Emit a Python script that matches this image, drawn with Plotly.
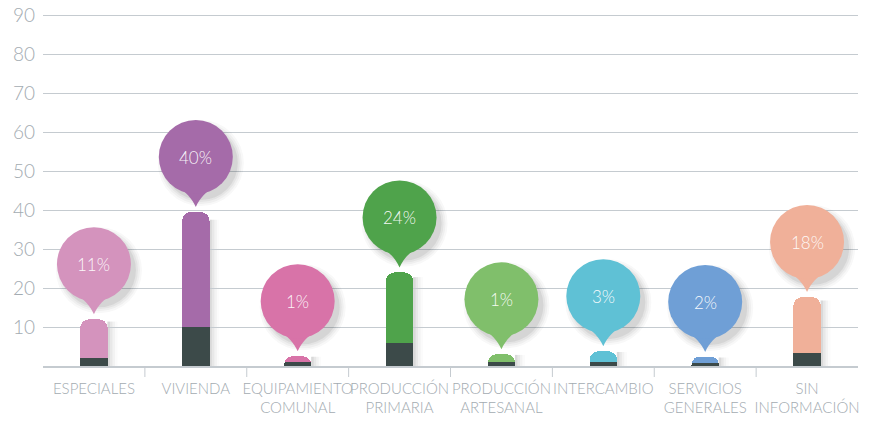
import plotly.graph_objects as go

categories = ["ESPECIALES", "VIVIENDA", "EQUIPAMIENTO<br>COMUNAL", "PRODUCCIÓN<br>PRIMARIA",
              "PRODUCCIÓN<br>ARTESANAL", "INTERCAMBIO", "SERVICIOS<br>GENERALES", "SIN<br>INFORMACIÓN"]
totals = [12, 39.5, 2.5, 24, 3, 3.8, 2.3, 17.7]
dark_part = [2, 10, 1, 6, 1, 1, 0.8, 3.3]
percents = [11, 40, 1, 24, 1, 3, 2, 18]
colors = ["#d493bd", "#a56ba9", "#d873a8", "#4fa34b", "#80bf6b", "#5fc1d5", "#6f9fd6", "#f0b099"]

upper_part = [t - d for t, d in zip(totals, dark_part)]

GRAY = "#a3abb1"
FONT = "Lato"

fig = go.Figure()
fig.add_trace(go.Bar(x=categories, y=dark_part, width=0.27,
                     marker=dict(color="#3c4a49", line=dict(width=0)), hoverinfo="skip"))
fig.add_trace(go.Bar(x=categories, y=upper_part, width=0.27,
                     marker=dict(color=colors, line=dict(width=0)), hoverinfo="skip"))

shapes = []
annotations = []
R = 37
CY = 55
for i, (tot, col, pct) in enumerate(zip(totals, colors, percents)):
    # soft shadow to the right of the bar
    for k, a in enumerate([0.07, 0.05, 0.035, 0.02]):
        shapes.append(dict(type="rect", xref="x", yref="y", xsizemode="pixel", xanchor=i,
                           x0=13.5, x1=16 + 2.5 * k, y0=0, y1=tot * 0.95, layer="below",
                           fillcolor=f"rgba(40,40,40,{a})", line=dict(width=0)))
    # bubble shadow
    for grow, a in [(6, 0.03), (4, 0.04), (2, 0.05), (0, 0.07)]:
        shapes.append(dict(type="circle", xref="x", yref="y", xsizemode="pixel", ysizemode="pixel",
                           xanchor=i, yanchor=tot, x0=-R - grow + 5, x1=R + grow + 5,
                           y0=CY - R - grow - 6, y1=CY + R + grow - 6,
                           fillcolor=f"rgba(30,30,30,{a})", line=dict(width=0)))
    # pointer
    shapes.append(dict(type="path", xref="x", yref="y", xsizemode="pixel", ysizemode="pixel",
                       xanchor=i, yanchor=tot,
                       path="M -20,27 C -10,20 -4,14 0,5 C 4,14 10,20 20,27 Z",
                       fillcolor=col, line=dict(width=0)))
    # bubble
    shapes.append(dict(type="circle", xref="x", yref="y", xsizemode="pixel", ysizemode="pixel",
                       xanchor=i, yanchor=tot, x0=-R, x1=R, y0=CY - R, y1=CY + R,
                       fillcolor=col, line=dict(width=0)))
    annotations.append(dict(x=i, y=tot, yshift=CY, text=f"{pct}%", showarrow=False,
                            font=dict(family=FONT, size=17, weight=300,
                                      color="rgba(255,255,255,0.93)")))

# separators between categories below the axis
for i in range(len(categories) - 1):
    shapes.append(dict(type="line", xref="x", yref="paper", ysizemode="pixel", yanchor=0,
                       x0=i + 0.5, x1=i + 0.5, y0=0, y1=-11,
                       line=dict(color="#c5cbd0", width=1)))

# page body has an 8px margin, so the figure is a bit smaller than the window
fig.update_layout(
    width=861, height=413,
    margin=dict(l=35, r=11, t=6, b=55),
    barmode="stack", barcornerradius=9,
    paper_bgcolor="white", plot_bgcolor="white",
    showlegend=False,
    font=dict(family=FONT, color=GRAY, weight=300),
    shapes=shapes, annotations=annotations,
    xaxis=dict(type="category", range=[-0.5, 7.5], showgrid=False, automargin=False,
               showline=True, linecolor="#c5cbd0", linewidth=1.5, tickangle=0,
               tickfont=dict(size=15, color=GRAY, weight=300), ticks="",
               ticklabelstandoff=8),
    yaxis=dict(range=[0, 90.3], tickvals=[10, 20, 30, 40, 50, 60, 70, 80, 90], automargin=False,
               showgrid=True, gridcolor="#c5cbd0", gridwidth=1.3, zeroline=False,
               ticklabeloverflow="allow",
               tickfont=dict(size=19, color=GRAY, weight=300), ticklabelstandoff=7),
)

fig.write_html("out.html")
